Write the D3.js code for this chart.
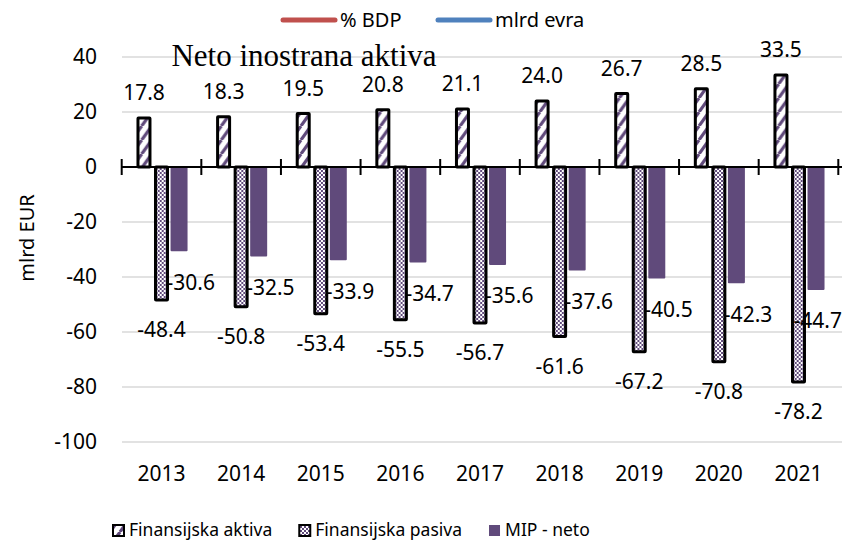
<!DOCTYPE html>
<html>
<head>
<meta charset="utf-8">
<script src="https://cdn.jsdelivr.net/npm/d3@7"></script>
<style>
  html, body { margin: 0; padding: 0; background: #fff; }
  svg { display: block; font-family: "Noto Sans", "Open Sans", sans-serif; }
</style>
</head>
<body>
<svg id="chart"></svg>
<script>
/* ===============================
   Data
================================ */

const years  = ["2013", "2014", "2015", "2016", "2017", "2018", "2019", "2020", "2021"];
const aktiva = [17.8, 18.3, 19.5, 20.8, 21.1, 24.0, 26.7, 28.5, 33.5];
const pasiva = [-48.4, -50.8, -53.4, -55.5, -56.7, -61.6, -67.2, -70.8, -78.2];
const mip    = [-30.6, -32.5, -33.9, -34.7, -35.6, -37.6, -40.5, -42.3, -44.7];

const seriesNames = ["Finansijska aktiva", "Finansijska pasiva", "MIP - neto"];
const yTicks = [40, 20, 0, -20, -40, -60, -80, -100];
const lineLegend = ["% BDP", "mlrd evra"];

/* ===============================
   Setup
================================ */

const W = 844, H = 546;
const PURPLE = "#604a7b";

const svg = d3.select("#chart").attr("width", W).attr("height", H);
const defs = svg.append("defs");

// diagonal stripes (aktiva)
const stripe = defs.append("pattern")
  .attr("id", "stripe")
  .attr("patternUnits", "userSpaceOnUse")
  .attr("width", 10).attr("height", 14);
stripe.append("rect").attr("width", 10).attr("height", 14).attr("fill", "#fff");
stripe.append("path")
  .attr("d", "M0,14L10,0M-10,14L0,0M10,14L20,0")
  .attr("stroke", PURPLE).attr("stroke-width", 3.2);

// small checkerboard (pasiva)
const checker = defs.append("pattern")
  .attr("id", "checker")
  .attr("patternUnits", "userSpaceOnUse")
  .attr("width", 4).attr("height", 4);
checker.append("rect").attr("width", 4).attr("height", 4).attr("fill", PURPLE);
checker.append("rect").attr("width", 2).attr("height", 2).attr("fill", "#fff");
checker.append("rect").attr("x", 2).attr("y", 2).attr("width", 2).attr("height", 2).attr("fill", "#fff");

const fills = ["url(#stripe)", "url(#checker)", PURPLE];

const x0 = d3.scaleBand().domain(years).range([121.7, 838.3]).paddingInner(0);
const x1 = d3.scaleBand().domain(seriesNames).range([0, x0.bandwidth()])
  .paddingInner(0).paddingOuter(0.77);
const y = d3.scaleLinear().domain([-100, 40]).range([442, 57]);

/* ===============================
   Grid + axes
================================ */

svg.append("g")
  .selectAll("line")
  .data(yTicks.filter(t => t !== 0))
  .join("line")
  .attr("x1", 122).attr("x2", 842)
  .attr("y1", d => y(d)).attr("y2", d => y(d))
  .attr("stroke", "#d9d9d9").attr("stroke-width", 1.5);

const yAxis = svg.append("g")
  .attr("transform", "translate(104,0)")
  .call(d3.axisLeft(y).tickValues(yTicks).tickSize(0).tickFormat(d => String(d)));
yAxis.select(".domain").remove();
yAxis.selectAll("text")
  .attr("x", -7)
  .attr("font-family", "Noto Sans, Open Sans, sans-serif")
  .attr("font-size", 21).attr("fill", "#000");

const xAxis = svg.append("g")
  .attr("transform", "translate(0,463)")
  .call(d3.axisBottom(x0).tickSize(0));
xAxis.select(".domain").remove();
xAxis.selectAll("text")
  .attr("font-family", "Noto Sans, Open Sans, sans-serif")
  .attr("font-size", 21).attr("fill", "#000");

svg.append("text")
  .attr("transform", "translate(34,238) rotate(-90)")
  .attr("text-anchor", "middle")
  .attr("font-size", 20)
  .text("mlrd EUR");

/* ===============================
   Bars
================================ */

const rows = years.map((yr, i) => ({ year: yr, vals: [aktiva[i], pasiva[i], mip[i]] }));

const groups = svg.append("g")
  .selectAll("g")
  .data(rows)
  .join("g")
  .attr("transform", d => `translate(${x0(d.year)},0)`);

groups.selectAll("rect")
  .data(d => d.vals.map((v, k) => ({ v, k })))
  .join("rect")
  .attr("x", d => {
    const c = x1(seriesNames[d.k]) + x1.bandwidth() / 2;
    return d.k === 2 ? c - 8.5 : c - 6;
  })
  .attr("width", d => d.k === 2 ? 17 : 12)
  .attr("y", d => y(Math.max(0, d.v)))
  .attr("height", d => Math.abs(y(d.v) - y(0)))
  .attr("fill", d => fills[d.k])
  .attr("stroke", d => d.k === 2 ? "none" : "#000")
  .attr("stroke-width", 3)
  .attr("rx", d => d.k === 2 ? 1 : 0.5);

// zero axis with category ticks
const zero = svg.append("g");
zero.append("line")
  .attr("x1", 122).attr("x2", 842)
  .attr("y1", y(0)).attr("y2", y(0))
  .attr("stroke", "#000").attr("stroke-width", 2);
zero.selectAll(".tick")
  .data(years.map(yr => x0(yr)).concat([x0.range()[1]]))
  .join("line")
  .attr("class", "tick")
  .attr("x1", d => d).attr("x2", d => d)
  .attr("y1", y(0) - 8).attr("y2", y(0) + 8)
  .attr("stroke", "#000").attr("stroke-width", 2);

/* ===============================
   Data labels
================================ */

const labels = svg.append("g")
  .attr("font-size", 21)
  .attr("fill", "#000");

rows.forEach(r => {
  const bx = x0(r.year);
  // aktiva: above the bar
  const cA = bx + x1(seriesNames[0]) + x1.bandwidth() / 2;
  labels.append("text")
    .attr("x", cA).attr("y", y(r.vals[0]) - 25)
    .attr("dy", "0.35em").attr("text-anchor", "middle")
    .text(r.vals[0].toFixed(1));

  // pasiva: below the bar
  const cP = bx + x1(seriesNames[1]) + x1.bandwidth() / 2;
  labels.append("text")
    .attr("x", cP).attr("y", y(r.vals[1]) + 30)
    .attr("dy", "0.35em").attr("text-anchor", "middle")
    .text(r.vals[1].toFixed(1));

  // mip: starts at the pasiva edge, kept inside the chart
  const t = labels.append("text")
    .attr("x", cP + 5).attr("y", y(r.vals[2]) + 31)
    .attr("dy", "0.35em").attr("text-anchor", "start")
    .text(r.vals[2].toFixed(1));
  const w = t.node().getComputedTextLength();
  if (cP + 5 + w > W - 2) t.attr("x", W - 2 - w);
});

/* ===============================
   Title + legends
================================ */

svg.append("text")
  .attr("x", 304).attr("y", 66)
  .attr("text-anchor", "middle")
  .attr("font-family", "Liberation Serif, Times New Roman, serif")
  .attr("font-size", 31)
  .text("Neto inostrana aktiva");

const topLeg = svg.append("g");
const lineColors = ["#c0504d", "#4f81bd"];
const topX = [281, 436];
lineLegend.forEach((name, i) => {
  topLeg.append("line")
    .attr("x1", topX[i] + 2).attr("x2", topX[i] + 54)
    .attr("y1", 20).attr("y2", 20)
    .attr("stroke", lineColors[i]).attr("stroke-width", 5)
    .attr("stroke-linecap", "round");
  topLeg.append("text")
    .attr("x", topX[i] + 59).attr("y", 20).attr("dy", "0.35em")
    .attr("font-size", 20)
    .text(name);
});

// bottom legend laid out left to right
const botLeg = svg.append("g");
let lx = 112;
seriesNames.forEach((name, i) => {
  botLeg.append("rect")
    .attr("x", lx + 1).attr("y", 525)
    .attr("width", 11).attr("height", 11)
    .attr("fill", fills[i])
    .attr("stroke", i === 2 ? "none" : "#000")
    .attr("stroke-width", 2);
  const t = botLeg.append("text")
    .attr("x", lx + 17).attr("y", 530).attr("dy", "0.35em")
    .attr("font-size", 17.5)
    .text(name);
  lx += 17 + t.node().getComputedTextLength() + 26;
});
</script>
</body>
</html>
